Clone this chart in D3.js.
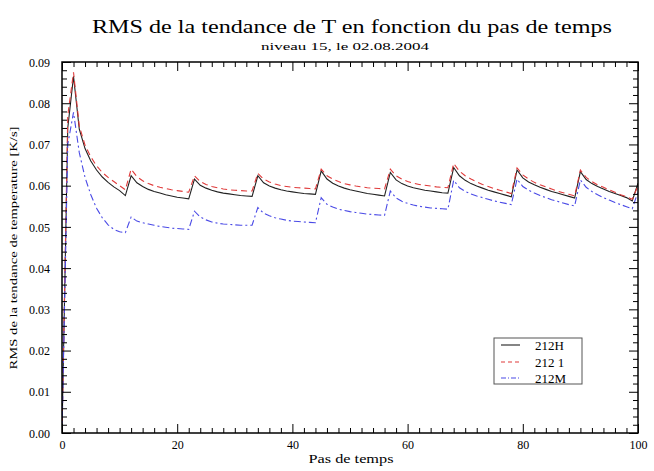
<!DOCTYPE html>
<html><head><meta charset="utf-8">
<script src="https://cdn.jsdelivr.net/npm/d3@7"></script>
<style>
html,body{margin:0;padding:0;background:#fff;}
svg{display:block;}
svg text{font-family:"Liberation Serif","Times New Roman",serif !important;fill:#000;}
</style></head>
<body>
<svg id="chart" width="654" height="471"></svg>
<script>
// ---- data ----
const steps = d3.range(0, 101);
const serie212H = [
0.0000,0.0740,0.0865,0.0737,0.0690,0.0660,0.0638,0.0621,0.0608,0.0597,0.0588,0.0576,
0.0624,0.0607,0.0598,0.0591,0.0586,0.0582,0.0578,0.0575,0.0572,0.0570,0.0568,
0.0616,0.0601,0.0594,0.0589,0.0585,0.0582,0.0580,0.0578,0.0576,0.0575,0.0574,
0.0624,0.0607,0.0599,0.0594,0.0590,0.0587,0.0585,0.0583,0.0581,0.0580,0.0579,
0.0636,0.0616,0.0606,0.0599,0.0594,0.0590,0.0587,0.0584,0.0581,0.0579,0.0577,0.0575,
0.0632,0.0614,0.0605,0.0599,0.0595,0.0592,0.0589,0.0587,0.0585,0.0583,0.0582,
0.0644,0.0624,0.0613,0.0605,0.0599,0.0594,0.0589,0.0585,0.0581,0.0577,0.0573,
0.0638,0.0619,0.0609,0.0602,0.0596,0.0591,0.0586,0.0582,0.0578,0.0574,0.0570,
0.0634,0.0615,0.0605,0.0598,0.0592,0.0586,0.0581,0.0576,0.0571,0.0563,
0.0606];
const serie2121 = [
0.0000,0.0770,0.0875,0.0745,0.0698,0.0670,0.0648,0.0632,0.0620,0.0610,0.0600,0.0590,
0.0640,0.0622,0.0612,0.0605,0.0600,0.0596,0.0593,0.0590,0.0588,0.0586,0.0584,
0.0624,0.0610,0.0603,0.0598,0.0595,0.0592,0.0590,0.0589,0.0588,0.0587,0.0587,
0.0630,0.0616,0.0609,0.0604,0.0600,0.0598,0.0596,0.0595,0.0594,0.0593,0.0592,
0.0640,0.0624,0.0616,0.0610,0.0605,0.0602,0.0599,0.0597,0.0595,0.0594,0.0593,0.0592,
0.0640,0.0624,0.0616,0.0610,0.0606,0.0603,0.0601,0.0599,0.0597,0.0596,0.0595,
0.0654,0.0635,0.0624,0.0616,0.0609,0.0603,0.0598,0.0593,0.0589,0.0585,0.0581,
0.0643,0.0626,0.0616,0.0608,0.0602,0.0597,0.0592,0.0587,0.0583,0.0579,0.0575,
0.0638,0.0620,0.0610,0.0602,0.0596,0.0590,0.0584,0.0578,0.0573,0.0567,
0.0600];
const serie212M = [
0.0000,0.0700,0.0778,0.0680,0.0620,0.0578,0.0545,0.0522,0.0505,0.0494,0.0488,0.0486,
0.0524,0.0514,0.0510,0.0507,0.0504,0.0501,0.0499,0.0497,0.0496,0.0495,0.0494,
0.0538,0.0524,0.0517,0.0512,0.0509,0.0507,0.0506,0.0505,0.0504,0.0504,0.0504,
0.0547,0.0533,0.0527,0.0522,0.0519,0.0516,0.0514,0.0513,0.0512,0.0511,0.0510,
0.0571,0.0555,0.0548,0.0543,0.0540,0.0537,0.0535,0.0533,0.0531,0.0530,0.0529,0.0528,
0.0587,0.0570,0.0562,0.0557,0.0553,0.0550,0.0548,0.0546,0.0545,0.0544,0.0543,
0.0613,0.0595,0.0586,0.0580,0.0575,0.0571,0.0567,0.0563,0.0560,0.0557,0.0554,
0.0616,0.0598,0.0589,0.0582,0.0576,0.0571,0.0566,0.0562,0.0558,0.0554,0.0551,
0.0614,0.0596,0.0586,0.0578,0.0571,0.0565,0.0559,0.0554,0.0549,0.0544,
0.0585];
const seriesNames = ["212H", "212 1", "212M"];
const xTickValues = [0, 20, 40, 60, 80, 100];
const yTickValues = [0.00, 0.01, 0.02, 0.03, 0.04, 0.05, 0.06, 0.07, 0.08, 0.09];
const titleText = "RMS de la tendance de T en fonction du pas de temps";
const subtitleText = "niveau 15, le 02.08.2004";
const xLabelText = "Pas de temps";
const yLabelText = "RMS de la tendance de temperature [K/s]";

// ---- drawing ----
const svg = d3.select("#chart");
const L = 62, R = 638, T = 62, B = 433;
const x = d3.scaleLinear().domain([0, 100]).range([L, R]);
const y = d3.scaleLinear().domain([0, 0.09]).range([B, T]);

const seriesData = [serie212H, serie2121, serie212M];
const styles = [
  {color: "#222222", dash: null, w: 1.1},
  {color: "#e03a3a", dash: "6,4", w: 1.1},
  {color: "#4a4ae6", dash: "7,3,2,3", w: 1.1}
];

svg.append("clipPath").attr("id","clip").append("rect")
  .attr("x", L).attr("y", T).attr("width", R-L).attr("height", B-T);

const line = d3.line().x((d,i)=>x(steps[i])).y(d=>y(d));
const gLines = svg.append("g").attr("clip-path","url(#clip)");
seriesData.forEach((s, k) => {
  gLines.append("path").datum(s)
    .attr("d", line)
    .attr("fill","none")
    .attr("stroke", styles[k].color)
    .attr("stroke-width", styles[k].w)
    .attr("stroke-dasharray", styles[k].dash);
});

const xMinor = d3.range(0, 101, 2).filter(v => !xTickValues.includes(v));
const yMinor = d3.range(0, 46, 1).map(v => v*0.002).filter(v => Math.abs(Math.round(v*100) - v*100) > 1e-6);

function styleAxis(g){
  g.select(".domain").remove();
  g.selectAll("line").attr("stroke","#000").attr("stroke-width",1);
}
svg.append("g").attr("transform",`translate(0,${B})`)
  .call(d3.axisTop(x).tickValues(xMinor).tickSize(5).tickFormat(""))
  .call(styleAxis);
const gxb = svg.append("g").attr("transform",`translate(0,${B})`)
  .call(d3.axisTop(x).tickValues(xTickValues).tickSize(9).tickFormat(d3.format("d")))
  .call(styleAxis);
gxb.selectAll("text").attr("y", 16).attr("dy", 0).attr("font-size", 12);
svg.append("g").attr("transform",`translate(0,${T})`)
  .call(d3.axisBottom(x).tickValues(xMinor).tickSize(5).tickFormat(""))
  .call(styleAxis);
svg.append("g").attr("transform",`translate(0,${T})`)
  .call(d3.axisBottom(x).tickValues(xTickValues).tickSize(9).tickFormat(""))
  .call(styleAxis);
svg.append("g").attr("transform",`translate(${L},0)`)
  .call(d3.axisRight(y).tickValues(yMinor).tickSize(5).tickFormat(""))
  .call(styleAxis);
const gyl = svg.append("g").attr("transform",`translate(${L},0)`)
  .call(d3.axisRight(y).tickValues(yTickValues).tickSize(9).tickFormat(d3.format(".2f")))
  .call(styleAxis);
gyl.selectAll("text").attr("x", -12).attr("text-anchor","end").attr("dy","0.35em")
  .attr("font-size", 12);
svg.append("g").attr("transform",`translate(${R},0)`)
  .call(d3.axisLeft(y).tickValues(yMinor).tickSize(5).tickFormat(""))
  .call(styleAxis);
svg.append("g").attr("transform",`translate(${R},0)`)
  .call(d3.axisLeft(y).tickValues(yTickValues).tickSize(9).tickFormat(""))
  .call(styleAxis);

svg.append("rect").attr("x", L).attr("y", T).attr("width", R-L).attr("height", B-T)
  .attr("fill","none").attr("stroke","#000").attr("stroke-width",1.5);

svg.append("text").attr("x", 352).attr("y", 33).attr("text-anchor","middle")
  .attr("font-size", 19).attr("textLength", 520).attr("lengthAdjust","spacingAndGlyphs")
  .text(titleText);
svg.append("text").attr("x", 345).attr("y", 50).attr("text-anchor","middle")
  .attr("font-size", 11).attr("textLength", 168).attr("lengthAdjust","spacingAndGlyphs")
  .text(subtitleText);
svg.append("text").attr("x", 351).attr("y", 463).attr("text-anchor","middle")
  .attr("font-size", 12).attr("textLength", 85).attr("lengthAdjust","spacingAndGlyphs")
  .text(xLabelText);
svg.append("text").attr("transform","translate(17,248) rotate(-90)").attr("text-anchor","middle")
  .attr("font-size", 11).attr("textLength", 243).attr("lengthAdjust","spacingAndGlyphs")
  .text(yLabelText);

const lg = svg.append("g");
lg.append("rect").attr("x", 494).attr("y", 338).attr("width", 88).attr("height", 46)
  .attr("fill","#fff").attr("stroke","#555").attr("stroke-width",1);
const legY = [345, 362, 378];
seriesNames.forEach((n, k) => {
  lg.append("line").attr("x1", 501).attr("x2", 520).attr("y1", legY[k]).attr("y2", legY[k])
    .attr("stroke", styles[k].color).attr("stroke-width", 1.1)
    .attr("stroke-dasharray", k === 1 ? "4,3" : (k === 2 ? "5,2,1,2" : null));
  lg.append("text").attr("x", 535).attr("y", legY[k]).attr("dy","0.35em")
    .attr("font-size", 13).text(n);
});
</script>
</body></html>
